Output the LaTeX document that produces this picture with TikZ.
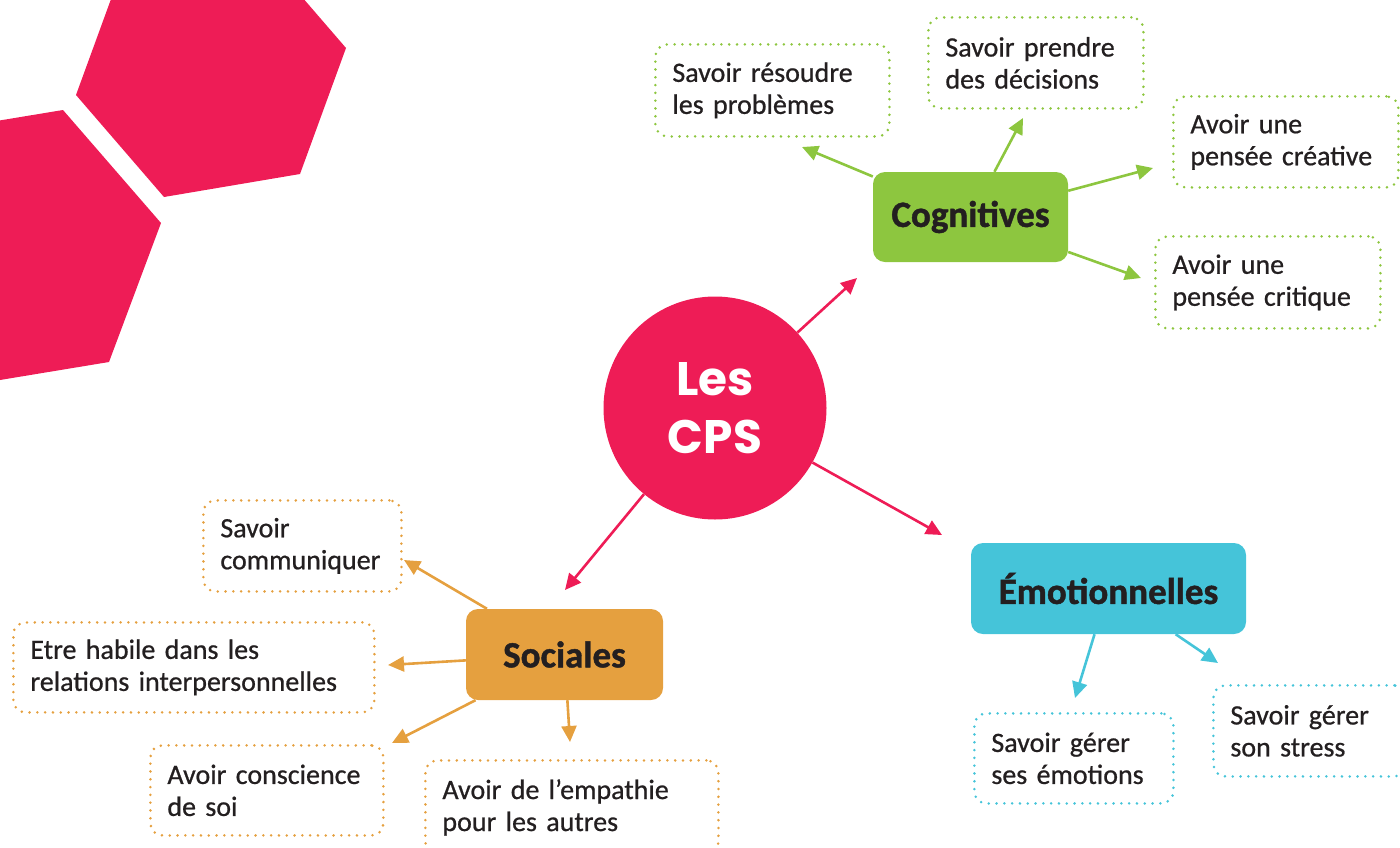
\documentclass[tikz,border=0pt]{standalone}
\usepackage{fontspec}
\setmainfont{Carlito}
\newfontfamily\leaffont{Carlito}[FakeBold=0.7, WordSpace=0.85]
\newfontfamily\catfont{Carlito}[BoldFeatures={FakeBold=1.2}]
\newfontfamily\cpsfont{Poppins}
\usetikzlibrary{arrows.meta}
\definecolor{cpspink}{HTML}{EE1C56}
\definecolor{cgreen}{HTML}{8DC63F}
\definecolor{corange}{HTML}{E5A03F}
\definecolor{cblue}{HTML}{45C4D9}
\definecolor{ctext}{HTML}{231F20}
\tikzset{
  catbox/.style={draw=none, fill=#1, rounded corners=12pt, inner sep=0pt,
    text=ctext, font=\catfont\fontsize{37}{40}\selectfont\bfseries},
  leaf/.style={draw=#1, line width=2.8pt, dash pattern=on 0pt off 7.8pt, line cap=round,
    rounded corners=12pt, anchor=north west, inner xsep=17pt, inner ysep=0pt,
    align=left, text=ctext, font=\leaffont\fontsize{28}{32}\selectfont},
  arr/.style={draw=#1, line width=2.6pt, -{Triangle[length=16pt,width=15pt]}, fill=none},
}
\begin{document}
\begin{tikzpicture}[x=1pt,y=-1pt]
\useasboundingbox (0,0) rectangle (1400,847);
\begin{scope}
\clip (0,0) rectangle (1400,847);
% hexagons
\fill[cpspink] (122,-31) -- (76,95) -- (164,197) -- (300,174) -- (346,48) -- (258,-54) -- cycle;
\fill[cpspink] (-46,128) -- (63,110) -- (161,223) -- (109,362) -- (0,380) -- (-98,267) -- cycle;

% centre
\node[circle, fill=cpspink, minimum size=223pt, inner sep=0pt, text=white, align=center,
  font=\cpsfont\bfseries\fontsize{47}{58}\selectfont] (cps) at (715,408) {Les\\CPS};

% categories
\node[catbox=cgreen, minimum width=195pt, minimum height=90pt] (cog) at (970.5,217) {Cognitives};
\node[catbox=corange, minimum width=197pt, minimum height=91pt] (soc) at (564.5,654.5) {Sociales};
\node[catbox=cblue, minimum width=275pt, minimum height=91pt] (emo) at (1108.5,588.5) {Émotionnelles};

% green leaves
\node[leaf=cgreen, text width=200pt, minimum height=92pt] (g1) at (654,43) {Savoir résoudre\\les problèmes};
\node[leaf=cgreen, text width=181pt, minimum height=91pt] (g2) at (927,16) {Savoir prendre\\des décisions};
\node[leaf=cgreen, text width=191pt, minimum height=91pt] (g3) at (1172,95) {Avoir une\\pensée créative};
\node[leaf=cgreen, text width=191pt, minimum height=92pt] (g4) at (1154,235) {Avoir une\\pensée critique};

% orange leaves
\node[leaf=corange, text width=164pt, minimum height=91pt] (o1) at (202,499) {Savoir\\communiquer};
\node[leaf=corange, text width=327pt, minimum height=90pt] (o2) at (12,621) {Etre habile dans les\\relations interpersonnelles};
\node[leaf=corange, text width=199pt, minimum height=90pt] (o3) at (149,744) {Avoir conscience\\de soi};
\node[leaf=corange, text width=259pt, minimum height=94pt] (o4) at (424,759) {Avoir de l’empathie\\pour les autres};

% blue leaves
\node[leaf=cblue, text width=165pt, minimum height=90pt] (b1) at (973,712) {Savoir gérer\\ses émotions};
\node[leaf=cblue, text width=159pt, minimum height=91pt] (b2) at (1212,684) {Savoir gérer\\son stress};

% arrow tips
\coordinate (tcog) at (857,278);
\coordinate (temo) at (942,535);
\coordinate (tsoc) at (565,590);
\coordinate (tg1) at (802,147);
\coordinate (tg2) at (1023,118);
\coordinate (tg3) at (1153,168);
\coordinate (tg4) at (1141,278);
\coordinate (to1) at (404,560);
\coordinate (to2) at (388,665);
\coordinate (to3) at (392,743);
\coordinate (to4) at (570,742);
\coordinate (tb1) at (1075,698);
\coordinate (tb2) at (1218,663);

\draw[arr=cpspink] (cps) -- (tcog);
\draw[arr=cpspink] (cps) -- (temo);
\draw[arr=cpspink] (cps) -- (tsoc);
\draw[arr=cgreen] (cog) -- (tg1);
\draw[arr=cgreen] (cog) -- (tg2);
\draw[arr=cgreen] (cog) -- (tg3);
\draw[arr=cgreen] (cog) -- (tg4);
\draw[arr=corange] (soc) -- (to1);
\draw[arr=corange] (soc) -- (to2);
\draw[arr=corange] (soc) -- (to3);
\draw[arr=corange] (soc) -- (to4);
\draw[arr=cblue] (emo) -- (tb1);
\draw[arr=cblue] (emo) -- (tb2);
\end{scope}
\end{tikzpicture}
\end{document}
